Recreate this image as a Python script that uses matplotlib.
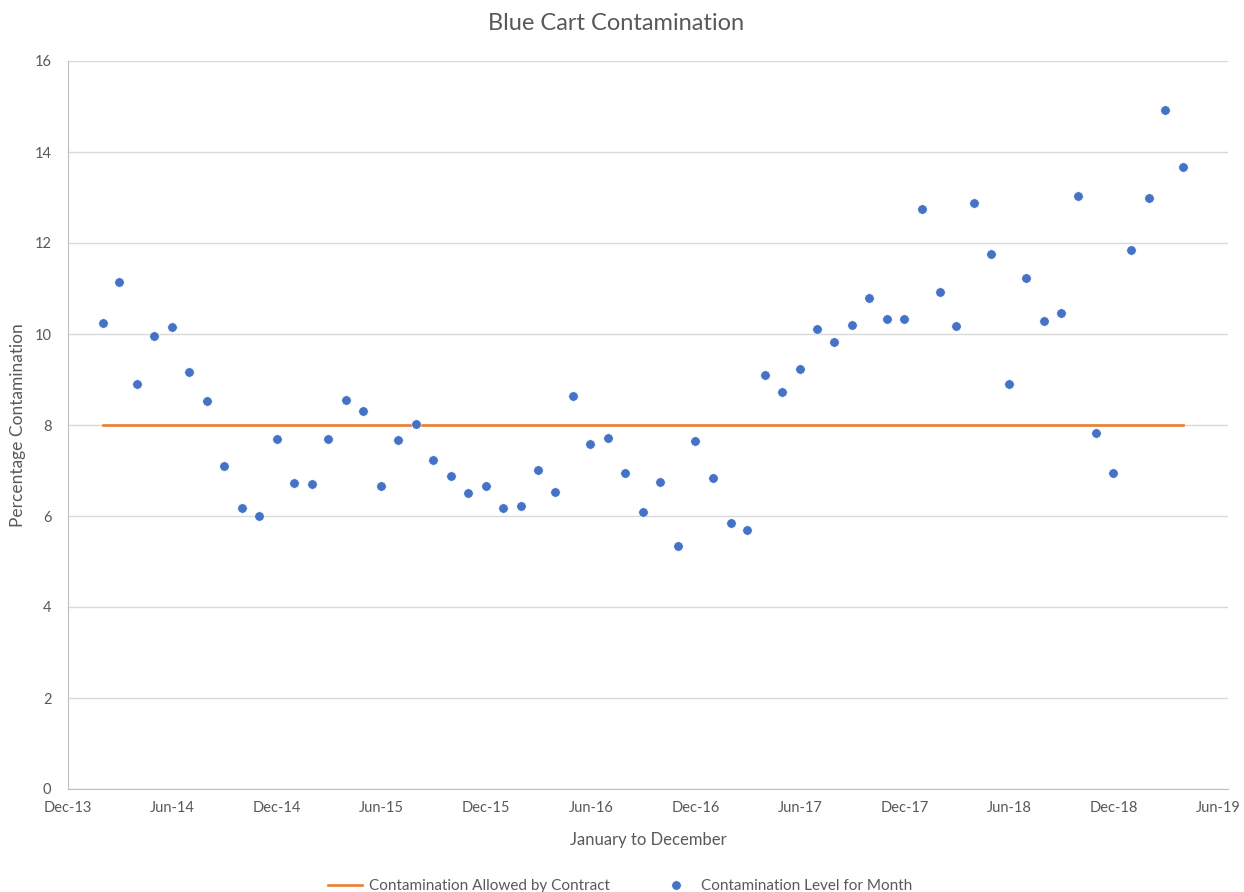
import matplotlib
matplotlib.use("Agg")
import matplotlib.pyplot as plt
import matplotlib.dates as mdates
import numpy as np
import pandas as pd

# Mois (fin de mois, janvier 2014 à mars 2019)
mois = pd.date_range("2014-01-31", periods=63, freq="ME")

# Contamination mesurée chaque mois (%)
contamination = [
    10.24, 11.14, 8.90, 9.95, 10.15, 9.16, 8.53, 7.10, 6.18, 6.00, 7.69, 6.73,
    6.70, 7.69, 8.55, 8.31, 6.66, 7.67, 8.02, 7.23, 6.88, 6.51, 6.66, 6.18,
    6.22, 7.01, 6.53, 8.64, 7.58, 7.71, 6.95, 6.09, 6.75, 5.34, 7.65, 6.84,
    5.85, 5.69, 9.10, 8.73, 9.23, 10.11, 9.82, 10.20, 10.79, 10.33, 10.33, 12.75,
    10.92, 10.18, 12.88, 11.76, 8.90, 11.23, 10.29, 10.46, 13.03, 7.82, 6.95, 11.85,
    12.99, 14.92, 13.67,
]

# Limite autorisée par le contrat
limite = [8.0] * len(mois)

cinza = "#595959"
plt.rcParams["font.family"] = ["Lato", "DejaVu Sans"]

fig = plt.figure(figsize=(12.44, 8.92), dpi=100)
ax = fig.add_axes([68 / 1244, 1 - 789 / 892, (1228 - 68) / 1244, (789 - 61) / 892])

ax.plot(mois, limite, color="#ED7D31", linewidth=1.9, label="Contamination Allowed by Contract", zorder=2)
ax.plot(mois, contamination, "o", color="#4472C4", markersize=6.8, markeredgecolor="white",
        markeredgewidth=0.4, label="Contamination Level for Month", zorder=3)

ax.set_xlim(pd.Timestamp("2013-12-01"), pd.Timestamp("2019-06-18"))
ax.set_ylim(0, 16)
ax.set_yticks(np.arange(0, 17, 2))
ax.xaxis.set_major_locator(mdates.MonthLocator(bymonth=[6, 12], bymonthday=1))
ax.xaxis.set_major_formatter(mdates.DateFormatter("%b-%y"))

ax.grid(axis="y", color="#D9D9D9", linewidth=1)
ax.set_axisbelow(True)
for lado in ["top", "right"]:
    ax.spines[lado].set_visible(False)
for lado in ["left", "bottom"]:
    ax.spines[lado].set_color("#BFBFBF")
ax.tick_params(length=0, colors=cinza, labelsize=10.5, pad=9)
ax.tick_params(axis="y", pad=12)

# Título centrado na figura, como no original
fig.text(616 / 1244, 1 - 24 / 892, "Blue Cart Contamination", color=cinza, fontsize=17,
         ha="center", va="center")
ax.set_xlabel("January to December", color=cinza, fontsize=12, labelpad=12)
ax.set_ylabel("Percentage Contamination", color=cinza, fontsize=12.5, labelpad=6)

fig.legend(loc="center", bbox_to_anchor=(620 / 1244, 1 - 886 / 892), ncol=2, frameon=False,
           fontsize=11, labelcolor=cinza, columnspacing=3.2, handlelength=2.2, handletextpad=0.5)

fig.savefig("out.png", dpi=100)
